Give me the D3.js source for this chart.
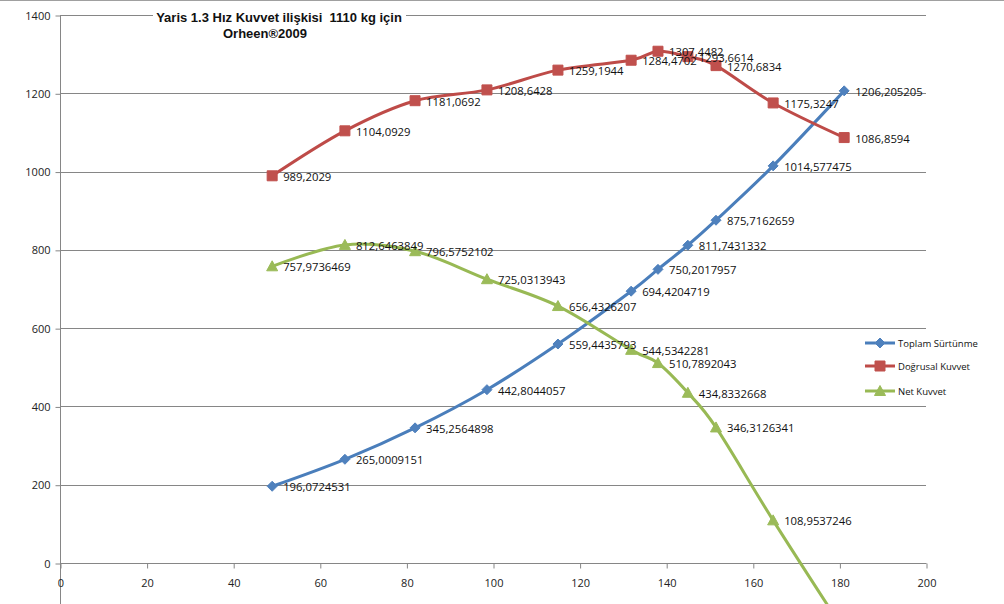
<!DOCTYPE html>
<html><head><meta charset="utf-8">
<script src="https://cdn.jsdelivr.net/npm/d3@7"></script>
<style>body{margin:0;background:#fff;}svg{display:block;}text.pre{white-space:pre;}</style>
</head><body>
<svg id="c" width="1004" height="604"></svg>
<script>
const speeds = [49.0, 65.8, 82.0, 98.6, 115.0, 131.9, 138.1, 145.0, 151.5, 164.7, 181.1];
const toplamSurtunme = [196.0724531, 265.0009151, 345.2564898, 442.8044057, 559.4435793, 694.4204719, 750.2017957, 811.7431332, 875.7162659, 1014.577475, 1206.205205];
const dogrusalKuvvet = [989.2029, 1104.0929, 1181.0692, 1208.6428, 1259.1944, 1284.4702, 1307.4482, 1293.6614, 1270.6834, 1175.3247, 1086.8594];
const netKuvvet = [757.9736469, 812.6463849, 796.5752102, 725.0313943, 656.4326207, 544.5342281, 510.7892043, 434.8332668, 346.3126341, 108.9537246, -173];
const xTicks = [0, 20, 40, 60, 80, 100, 120, 140, 160, 180, 200];
const yTicks = [0, 200, 400, 600, 800, 1000, 1200, 1400];
const seriesNames = ["Toplam Sürtünme", "Doğrusal Kuvvet", "Net Kuvvet"];
const titleLines = ["Yaris 1.3 Hız Kuvvet ilişkisi  1110 kg için", "Orheen®2009"];

const fmt = v => String(v).replace(".", ",");
const svg = d3.select("#c");
const x = d3.scaleLinear().domain([0, 200]).range([60, 926]);
const y = d3.scaleLinear().domain([0, 1400]).range([563, 15]);
const gridC = "#868686";
const labelFont = "'Open Sans', sans-serif";

// top chart border
svg.append("line").attr("x1", 0).attr("x2", 1004).attr("y1", 0.5).attr("y2", 0.5)
  .attr("stroke", "#a0a0a0").attr("stroke-width", 1);

// gridlines
svg.append("g").selectAll("line").data(yTicks.filter(d => d > 0)).join("line")
  .attr("x1", x(0)).attr("x2", x(200))
  .attr("y1", d => Math.round(y(d)) + 0.5).attr("y2", d => Math.round(y(d)) + 0.5)
  .attr("stroke", gridC).attr("stroke-width", 1);

// y axis
const yAxis = d3.axisLeft(y).tickValues(yTicks).tickSize(5).tickPadding(5).tickFormat(d => d);
const gy = svg.append("g").attr("transform", `translate(${x(0)+0.5},0.5)`).call(yAxis);
gy.select(".domain").remove();
gy.append("line").attr("x1", 0).attr("x2", 0).attr("y1", 14.5).attr("y2", 604).attr("stroke", gridC);
gy.selectAll(".tick line").attr("stroke", gridC);
gy.selectAll(".tick text").attr("font-family", labelFont).attr("font-size", 11).attr("fill", "#222");

// x axis (crosses at 0)
const xAxis = d3.axisBottom(x).tickValues(xTicks).tickSize(5).tickPadding(11).tickFormat(d => d);
const gx = svg.append("g").attr("transform", `translate(0.5,${Math.round(y(0))+0.5})`).call(xAxis);
gx.select(".domain").attr("stroke", gridC).attr("d", `M${x(0)},0H${x(200)}`);
gx.selectAll(".tick line").attr("stroke", gridC);
gx.selectAll(".tick text").attr("font-family", labelFont).attr("font-size", 11).attr("fill", "#222");

// title with white background
const tg = svg.append("g");
tg.append("rect").attr("x", 153).attr("y", 6).attr("width", 253).attr("height", 36).attr("fill", "#fff");
tg.append("text").attr("class", "pre").attr("x", 279).attr("y", 22).attr("text-anchor", "middle")
  .attr("font-family", "'Liberation Sans', Arial, sans-serif").attr("font-weight", "bold").attr("font-size", 13)
  .attr("fill", "#111").text(titleLines[0]);
tg.append("text").attr("x", 265).attr("y", 38).attr("text-anchor", "middle")
  .attr("font-family", "'Liberation Sans', Arial, sans-serif").attr("font-weight", "bold").attr("font-size", 13)
  .attr("fill", "#111").text(titleLines[1]);

const series = [
  {name: seriesNames[0], vals: toplamSurtunme, line: "#4A7EBB", fill: "#4F81BD", sym: "diamond"},
  {name: seriesNames[1], vals: dogrusalKuvvet, line: "#BE4B48", fill: "#C0504D", sym: "square"},
  {name: seriesNames[2], vals: netKuvvet, line: "#98B954", fill: "#9BBB59", sym: "triangle"}
];
const symbolPath = (sym) => {
  if (sym === "diamond") return "M0,-5L5,0L0,5L-5,0Z";
  if (sym === "square") return "M-5,-5H5V5H-5Z";
  return "M0,-5.5L5.5,4.5H-5.5Z";
};
const lineGen = d3.line().x(d => x(d[0])).y(d => y(d[1])).curve(d3.curveCardinal.tension(0));

series.forEach(s => {
  const pts = speeds.map((v, i) => [v, s.vals[i]]);
  const g = svg.append("g");
  g.append("path").attr("d", lineGen(pts)).attr("fill", "none").attr("stroke", s.line)
    .attr("stroke-width", 3).attr("stroke-linejoin", "round");
  g.selectAll("path.m").data(pts).join("path").attr("class", "m")
    .attr("transform", d => `translate(${x(d[0])},${y(d[1])})`)
    .attr("d", symbolPath(s.sym)).attr("fill", s.fill).attr("stroke", s.fill).attr("stroke-width", 1);
});
// data labels on top
series.forEach(s => {
  const pts = speeds.map((v, i) => [v, s.vals[i]]);
  svg.append("g").selectAll("text").data(pts).join("text")
    .attr("x", d => x(d[0]) + 11).attr("y", d => y(d[1]) + 5)
    .attr("font-family", labelFont).attr("font-size", 11.3).attr("fill", "#111")
    .text(d => fmt(d[1]));
});

// legend
const lg = svg.append("g");
series.forEach((s, i) => {
  const cy = [343, 366, 391][i];
  const row = lg.append("g").attr("transform", `translate(0,${cy})`);
  row.append("line").attr("x1", 865).attr("x2", 895).attr("y1", 0).attr("y2", 0)
    .attr("stroke", s.line).attr("stroke-width", 3);
  row.append("path").attr("transform", "translate(880,0)").attr("d", symbolPath(s.sym))
    .attr("fill", s.fill).attr("stroke", s.fill);
  row.append("text").attr("x", 898).attr("y", 4).attr("font-family", labelFont)
    .attr("font-size", 9.5).attr("fill", "#111").text(s.name);
});
</script>
</body></html>
